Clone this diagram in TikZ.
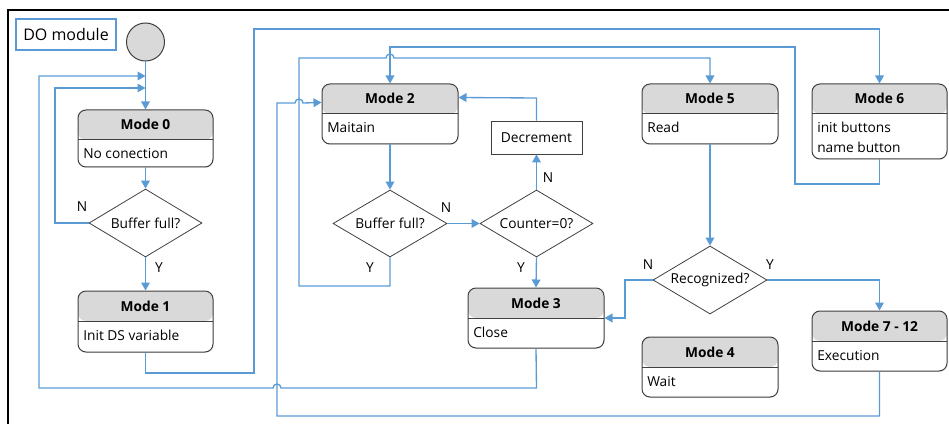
\documentclass[tikz,border=0pt]{standalone}
\usepackage{fontspec}
\setmainfont{Open Sans}
\usetikzlibrary{arrows.meta,shapes.geometric,fit,shadows}

\definecolor{flow}{HTML}{5B9BD5}
\definecolor{edge}{HTML}{404040}
\definecolor{head}{HTML}{D9D9D9}

\newcommand\bodyfont{\fontsize{10.3pt}{12pt}\selectfont}

\tikzset{
  flowline/.style={draw=flow, line width=1pt},
  arr/.style={flowline, -{Triangle[length=6pt,width=6.5pt]}},
  modebox/.style={draw=edge, line width=0.75pt, rounded corners=6pt,
    inner sep=0pt, fill=white,
    drop shadow={opacity=0.12, shadow xshift=0.6pt, shadow yshift=-0.8pt}},
  modetitle/.style={anchor=base, inner sep=0pt, font=\bodyfont\bfseries},
  modetext/.style={anchor=base west, inner sep=0pt, font=\bodyfont},
  decision/.style={diamond, draw=edge, line width=0.6pt, aspect=1.66,
    inner sep=0pt, fill=white, font=\bodyfont},
  yn/.style={inner sep=0pt, font=\bodyfont},
}

% name, left, top, right, bottom, title, first text line
\newcommand\modebox[7]{%
  \node[modebox, fit={(#2,#3) (#4,#5)},
    path picture={
      \fill[head] (path picture bounding box.north west) rectangle
        ([yshift=-22.5pt]path picture bounding box.north east);
      \draw[edge, line width=0.75pt]
        ([yshift=-22.5pt]path picture bounding box.north west) --
        ([yshift=-22.5pt]path picture bounding box.north east);
    }] (#1) {};
  \node[modetitle] (#1-t) at ({(#2+#4)/2},{#3+20}) {#6};
  \node[modetext] (#1-b) at ({#2+5},{#3+49}) {#7};
}

\begin{document}
\begin{tikzpicture}[x=0.75pt,y=-0.75pt]
\useasboundingbox (0,0) rectangle (949,424);

% frame
\draw[black, line width=1.6pt] (8,424) -- (8,10) -- (949,10);

% title and start
\node[draw=flow, line width=0.8pt, minimum width=75pt, minimum height=23.25pt,
  inner sep=0pt, font=\fontsize{12pt}{14pt}\selectfont] (title) at (66,34.5) {DO module};
\node[circle, draw=edge, fill=head, line width=0.75pt, minimum size=28.5pt,
  inner sep=0pt] (st) at (145.5,42) {};

% mode boxes
\modebox{m0}{78}{110}{213}{167}{Mode 0}{No conection}
\modebox{m1}{78}{291}{213}{352}{Mode 1}{Init DS variable}
\modebox{m2}{322}{84}{458}{144}{Mode 2}{Maitain}
\modebox{m3}{468}{288}{604}{348}{Mode 3}{Close}
\modebox{m5}{642}{84}{778}{144}{Mode 5}{Read}
\modebox{m6}{812}{84}{947}{159}{Mode 6}{init buttons}
\node[modetext] (m6-b2) at (817,152) {name button};
\modebox{m4}{642}{337}{778}{397}{Mode 4}{Wait}
\modebox{m7}{812}{311}{947}{371}{Mode 7 - 12}{Execution}

% decisions
\node[decision, minimum width=84.75pt, minimum height=51pt] (d1) at (145.5,223) {Buffer full?};
\node[decision, minimum width=85.5pt, minimum height=50.25pt] (d2) at (390,223.5) {Buffer full?};
\node[decision, minimum width=84.75pt, minimum height=50.25pt] (d3) at (536.5,223.5) {Counter=0?};
\node[decision, minimum width=85.5pt, minimum height=51pt] (d4) at (710,280) {Recognized?};

\node[draw=edge, line width=0.6pt, minimum width=68.25pt, minimum height=24.75pt,
  inner sep=0pt, font=\bodyfont] (dec) at (536.5,137.5) {Decrement};

% joins on the entry line of Mode 0
\coordinate (j1) at (145.5,76);
\coordinate (j2) at (145.5,88);

% connectors
\draw[arr] (st.south) -- (m0.north);
\draw[arr] (m0.south) -- (d1.north);
\draw[arr] (d1.west) -- (55,223) -- (55,88) -- (j2);
\draw[arr] (d1.south) -- (m1.north);
\draw[arr] (m3.south) -- (536.5,388) -- (281,388)
  arc[start angle=0, end angle=180, radius=3pt] -- (39,388) -- (39,76) -- (j1);
\draw[arr] (m1.south) -- (145.5,373) -- (254,373) -- (254,29) -- (879.5,29) -- (m6.north);
\draw[arr] (m6.south) -- (879.5,184) -- (795,184) -- (795,47) -- (390,47) -- (m2.north);
\draw[arr] (m7.south) -- (879.5,416) -- (277,416) -- (277,103) -- (295,103)
  arc[start angle=180, end angle=0, radius=3pt] -- ([yshift=-14.25pt]m2.north west);
\draw[arr] (m2.south) -- (d2.north);
\draw[arr] (d2.south) -- (390,286) -- (299,286) -- (299,58) -- (386,58)
  arc[start angle=180, end angle=0, radius=3pt] -- (710,58) -- (m5.north);
\draw[arr] (d2.east) -- (d3.west);
\draw[arr] (d3.north) -- (dec.south);
\draw[arr] (dec.north) -- (536.5,98) -- ([yshift=-10.5pt]m2.north east);
\draw[arr] (d3.south) -- (m3.north);
\draw[arr] (m5.south) -- (d4.north);
\draw[arr] (d4.west) -- (625,280) -- (625,318) -- (m3.east);
\draw[arr] (d4.east) -- (879.5,280) -- (m7.north);

% branch labels
\node[yn] (n1) at (82,207) {N};
\node[yn] (y1) at (159,268) {Y};
\node[yn] (n2) at (446,208) {N};
\node[yn] (y2) at (370,268) {Y};
\node[yn] (n3) at (548,178) {N};
\node[yn] (y3) at (521,268) {Y};
\node[yn] (n4) at (648,265) {N};
\node[yn] (y4) at (770,265) {Y};
\end{tikzpicture}
\end{document}
